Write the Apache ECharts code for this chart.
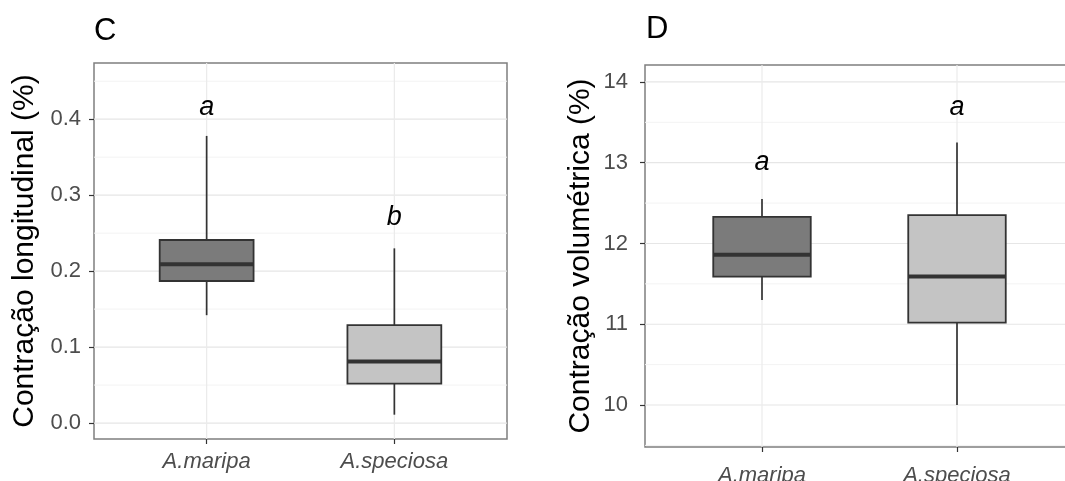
<!DOCTYPE html>
<html>
<head>
<meta charset="utf-8">
<script src="https://cdn.jsdelivr.net/npm/echarts@6/dist/echarts.min.js"></script>
<style>
  html, body { margin: 0; padding: 0; background: #fff; }
  #chart { width: 1065px; height: 481px; }
</style>
</head>
<body>
<div id="chart"></div>
<script>
// Species on the x axis (positions 0 and 1)
const categories = ['A.maripa', 'A.speciosa'];
const catPositions = [0, 1];
const boxFills = ['#7b7b7b', '#c4c4c4'];

// Panel C: longitudinal shrinkage (%)
const longLow = [0.142, 0.011];
const longQ1 = [0.187, 0.052];
const longMed = [0.209, 0.081];
const longQ3 = [0.241, 0.129];
const longHigh = [0.378, 0.230];
const longLetters = ['a', 'b'];
const longLetterY = [0.416, 0.270];
const longTicks = [0, 0.1, 0.2, 0.3, 0.4];
const longMinor = [0.05, 0.15, 0.25, 0.35, 0.45];

// Panel D: volumetric shrinkage (%)
const volLow = [11.30, 10.00];
const volQ1 = [11.59, 11.02];
const volMed = [11.86, 11.59];
const volQ3 = [12.33, 12.35];
const volHigh = [12.55, 13.25];
const volLetters = ['a', 'a'];
const volLetterY = [13.00, 13.69];
const volTicks = [10, 11, 12, 13, 14];
const volMinor = [9.5, 10.5, 11.5, 12.5, 13.5];

const FONT = 'Liberation Sans, Arial, Helvetica, sans-serif';
const TICK_COLOR = '#4d4d4d';

function boxRows(low, q1, med, q3, high) {
  return catPositions.map((x, i) => [x, low[i], q1[i], med[i], q3[i], high[i], i]);
}

function renderBox(params, api) {
  const x = api.value(0);
  const lo = api.value(1), q1 = api.value(2), md = api.value(3), q3 = api.value(4), hi = api.value(5);
  const idx = api.value(6);
  const half = api.size([0.5, 0])[0] / 2;
  const pHi = api.coord([x, hi]);
  const pQ3 = api.coord([x, q3]);
  const pMd = api.coord([x, md]);
  const pQ1 = api.coord([x, q1]);
  const pLo = api.coord([x, lo]);
  const stroke = { stroke: '#333333', lineWidth: 1.7 };
  return {
    type: 'group',
    children: [
      { type: 'line', shape: { x1: pHi[0], y1: pHi[1], x2: pQ3[0], y2: pQ3[1] }, style: stroke },
      { type: 'line', shape: { x1: pQ1[0], y1: pQ1[1], x2: pLo[0], y2: pLo[1] }, style: stroke },
      { type: 'rect', shape: { x: pQ3[0] - half, y: pQ3[1], width: half * 2, height: pQ1[1] - pQ3[1] },
        style: { fill: boxFills[idx], stroke: '#333333', lineWidth: 1.8 } },
      { type: 'line', shape: { x1: pMd[0] - half, y1: pMd[1], x2: pMd[0] + half, y2: pMd[1] },
        style: { stroke: '#333333', lineWidth: 4 } }
    ]
  };
}

function renderLetter(letters) {
  return function (params, api) {
    const p = api.coord([api.value(0), api.value(1)]);
    return {
      type: 'text',
      x: p[0], y: p[1],
      style: { text: letters[params.dataIndex], font: 'italic 27px ' + FONT, fill: '#000', align: 'center', verticalAlign: 'middle' }
    };
  };
}

function hLines(color, width) {
  return function (params, api) {
    const cs = params.coordSys;
    const y = api.coord([0, api.value(0)])[1];
    return { type: 'line', shape: { x1: cs.x, y1: y, x2: cs.x + cs.width, y2: y }, style: { stroke: color, lineWidth: width } };
  };
}

function vLines(params, api) {
  const cs = params.coordSys;
  const x = api.coord([api.value(0), 0])[0];
  return { type: 'line', shape: { x1: x, y1: cs.y, x2: x, y2: cs.y + cs.height }, style: { stroke: '#ebebeb', lineWidth: 1.2 } };
}

function gridSeries(axisIdx, majors, minors) {
  return [
    { type: 'custom', xAxisIndex: axisIdx, yAxisIndex: axisIdx, clip: true, z: 1, silent: true,
      data: minors.map(v => [v]), renderItem: hLines('#f3f3f3', 1) },
    { type: 'custom', xAxisIndex: axisIdx, yAxisIndex: axisIdx, clip: true, z: 1, silent: true,
      data: majors.map(v => [v]), renderItem: hLines('#e6e6e6', 1.2) },
    { type: 'custom', xAxisIndex: axisIdx, yAxisIndex: axisIdx, clip: true, z: 1, silent: true,
      data: catPositions.map(v => [v]), renderItem: vLines }
  ];
}

function xAxisFor(gridIndex, margin) {
  return {
    type: 'value', gridIndex: gridIndex, min: -0.6, max: 1.6, position: 'bottom',
    axisLine: { show: false, onZero: false },
    splitLine: { show: false },
    axisTick: { show: true, customValues: catPositions, length: 5, lineStyle: { color: '#333', width: 1.2 } },
    axisLabel: {
      show: true, customValues: catPositions, margin: margin,
      formatter: v => categories[Math.round(v)],
      fontFamily: FONT, fontSize: 22, fontStyle: 'italic', color: TICK_COLOR
    }
  };
}

function yAxisFor(gridIndex, min, max, ticks, fmt, name, nameGap, labelMargin) {
  return {
    type: 'value', gridIndex: gridIndex, min: min, max: max, position: 'left',
    name: name, nameLocation: 'middle', nameRotate: 90, nameGap: nameGap,
    nameTextStyle: { fontFamily: FONT, fontSize: 30, color: '#000' },
    axisLine: { show: false, onZero: false },
    splitLine: { show: false },
    axisTick: { show: true, customValues: ticks, length: 5, lineStyle: { color: '#333', width: 1.2 } },
    axisLabel: { show: true, customValues: ticks, margin: labelMargin, formatter: fmt,
      fontFamily: FONT, fontSize: 22, color: TICK_COLOR }
  };
}

const chart = echarts.init(document.getElementById('chart'), null, { renderer: 'canvas' });

chart.setOption({
  animation: false,
  backgroundColor: '#ffffff',
  title: [
    { text: 'C', left: 94, top: 16, padding: 0, textStyle: { fontFamily: FONT, fontSize: 31, fontWeight: 'normal', color: '#000' } },
    { text: 'D', left: 646, top: 14, padding: 0, textStyle: { fontFamily: FONT, fontSize: 31, fontWeight: 'normal', color: '#000' } }
  ],
  grid: [
    { left: 94, top: 63, width: 413, height: 376, outerBoundsMode: 'none', containLabel: false,
      show: true, borderColor: '#7f7f7f', borderWidth: 1.5, backgroundColor: '#fff' },
    { left: 645, top: 65, width: 429, height: 382, outerBoundsMode: 'none', containLabel: false,
      show: true, borderColor: '#7f7f7f', borderWidth: 1.5, backgroundColor: '#fff' }
  ],
  xAxis: [xAxisFor(0, 12), xAxisFor(1, 18)],
  yAxis: [
    yAxisFor(0, -0.021, 0.474, longTicks, v => v.toFixed(1), 'Contração longitudinal (%)', 54, 13),
    yAxisFor(1, 9.48, 14.21, volTicks, v => String(v), 'Contração volumétrica (%)', 49, 17)
  ],
  series: [
    ...gridSeries(0, longTicks, longMinor),
    ...gridSeries(1, volTicks, volMinor),
    { type: 'custom', xAxisIndex: 0, yAxisIndex: 0, z: 3, data: boxRows(longLow, longQ1, longMed, longQ3, longHigh), renderItem: renderBox },
    { type: 'custom', xAxisIndex: 1, yAxisIndex: 1, z: 3, data: boxRows(volLow, volQ1, volMed, volQ3, volHigh), renderItem: renderBox },
    { type: 'custom', xAxisIndex: 0, yAxisIndex: 0, z: 4, data: catPositions.map((x, i) => [x, longLetterY[i]]), renderItem: renderLetter(longLetters) },
    { type: 'custom', xAxisIndex: 1, yAxisIndex: 1, z: 4, data: catPositions.map((x, i) => [x, volLetterY[i]]), renderItem: renderLetter(volLetters) }
  ]
});
</script>
</body>
</html>
